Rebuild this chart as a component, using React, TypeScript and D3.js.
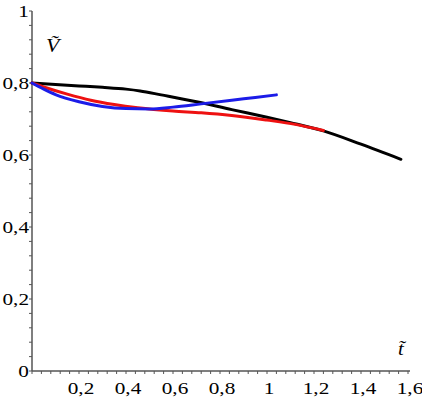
import React from "react";
import * as d3 from "d3";

const blackT = [0, 0.1, 0.2, 0.3, 0.4, 0.46, 0.55, 0.7, 0.85, 1.0, 1.1, 1.24, 1.4, 1.57];
const blackV = [0.8, 0.796, 0.792, 0.788, 0.783, 0.778, 0.767, 0.748, 0.726, 0.705, 0.69, 0.667, 0.63, 0.588];

const redT = [0, 0.05, 0.15, 0.25, 0.35, 0.45, 0.6, 0.72, 0.85, 1.0, 1.12, 1.24];
const redV = [0.8, 0.789, 0.769, 0.752, 0.74, 0.731, 0.722, 0.7175, 0.71, 0.697, 0.685, 0.668];

const blueT = [0, 0.05, 0.1, 0.2, 0.3, 0.4, 0.5, 0.6, 0.72, 0.85, 0.95, 1.04];
const blueV = [0.8, 0.783, 0.768, 0.748, 0.735, 0.729, 0.728, 0.733, 0.742, 0.752, 0.76, 0.767];

const xTickValues = [0.2, 0.4, 0.6, 0.8, 1, 1.2, 1.4, 1.6];
const xTickLabels = ["0,2", "0,4", "0,6", "0,8", "1", "1,2", "1,4", "1,6"];
const yTickValues = [0, 0.2, 0.4, 0.6, 0.8, 1];
const yTickLabels = ["0", "0,2", "0,4", "0,6", "0,8", "1"];

const series = [
  { t: blackT, v: blackV, color: "#000000" },
  { t: redT, v: redV, color: "#ee1111" },
  { t: blueT, v: blueV, color: "#1c1ce8" },
];

export default function App() {
  const W = 422, H = 398;
  const x = d3.scaleLinear().domain([0, 1.6]).range([32, 408]);
  const y = d3.scaleLinear().domain([0, 1]).range([371, 11]);
  const fontStyle = { fontFamily: '"Liberation Serif", "DejaVu Serif", serif' };
  const axisColor = "#555";
  const minorX = d3.range(0, 1.6001, 0.04);
  const minorY = d3.range(0, 1.0001, 0.04);
  const line = d3
    .line<[number, number]>()
    .x((d) => x(d[0]))
    .y((d) => y(d[1]))
    .curve(d3.curveMonotoneX);
  const sx = 1.25;
  return (
    <svg
      width={W}
      height={H}
      style={{ position: "absolute", left: 0, top: 0, background: "#fff" }}
    >
      {/* axes */}
      <line x1={x(0)} x2={410} y1={y(0)} y2={y(0)} stroke={axisColor} strokeWidth={1.5} />
      <line x1={x(0)} x2={x(0)} y1={y(0)} y2={y(1)} stroke={axisColor} strokeWidth={1.5} />
      {minorX.map((v, i) => (
        <line key={"mx" + i} x1={x(v)} x2={x(v)} y1={y(0)} y2={y(0) + 3} stroke={axisColor} strokeWidth={1} />
      ))}
      {minorY.map((v, i) => (
        <line key={"my" + i} x1={x(0) - 3} x2={x(0)} y1={y(v)} y2={y(v)} stroke={axisColor} strokeWidth={1} />
      ))}
      {xTickValues.map((v, i) => (
        <g key={"xl" + i} transform={`translate(${x(v) + 2},${394}) scale(${sx},1)`}>
          <text textAnchor="middle" style={fontStyle} fontSize={17} fill="#000">
            {xTickLabels[i]}
          </text>
        </g>
      ))}
      {yTickValues.map((v, i) => (
        <g key={"yl" + i} transform={`translate(${29},${y(v) + 5.5}) scale(${sx},1)`}>
          <text textAnchor="end" style={fontStyle} fontSize={17} fill="#000">
            {yTickLabels[i]}
          </text>
        </g>
      ))}
      {/* axis titles */}
      <g transform={`translate(46,52) scale(1.15,1)`}>
        <text style={fontStyle} fontStyle="italic" fontSize={19} fill="#000">
          {"V\u0303"}
        </text>
      </g>
      <g transform={`translate(398,355) scale(1.15,1)`}>
        <text style={fontStyle} fontStyle="italic" fontSize={18} fill="#000">
          {"t\u0303"}
        </text>
      </g>
      {/* curves */}
      {series.map((s, i) => (
        <path
          key={"s" + i}
          d={line(s.t.map((t, j) => [t, s.v[j]] as [number, number])) || ""}
          fill="none"
          stroke={s.color}
          strokeWidth={3}
          strokeLinecap="round"
        />
      ))}
    </svg>
  );
}
